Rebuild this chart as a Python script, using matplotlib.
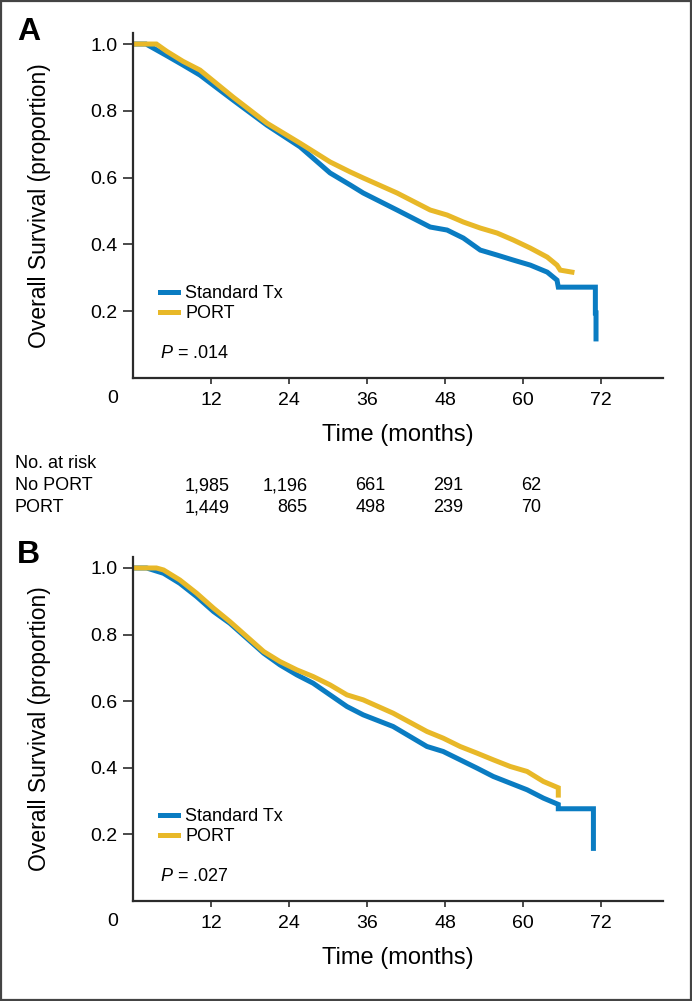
import matplotlib
matplotlib.use("Agg")
import matplotlib.pyplot as plt
from matplotlib.patches import Rectangle
from matplotlib.transforms import blended_transform_factory

# Данные
# Панель A
a_std_t = [0, 2.0, 5.2, 7.7, 10.3, 15.4, 20.6, 25.7, 30.3, 33.4, 35.4, 40.6, 45.7, 48.3, 50.8,
           53.4, 56.0, 58.5, 61.1, 63.7, 65.2, 65.4, 71.1, 71.1, 71.2, 71.2]
a_std_s = [1.0, 1.0, 0.965, 0.937, 0.907, 0.832, 0.757, 0.692, 0.614, 0.578, 0.554, 0.503, 0.452, 0.443, 0.419,
           0.383, 0.368, 0.353, 0.338, 0.317, 0.293, 0.272, 0.272, 0.195, 0.195, 0.117]
a_port_t = [0, 3.6, 5.2, 7.7, 10.3, 15.4, 20.6, 25.7, 30.3, 33.4, 35.4, 40.6, 45.7, 48.3, 50.8,
            53.4, 56.0, 58.5, 61.1, 63.7, 65.2, 65.7, 67.5]
a_port_s = [1.0, 1.0, 0.978, 0.948, 0.922, 0.841, 0.763, 0.703, 0.647, 0.617, 0.599, 0.554, 0.503, 0.488, 0.467,
            0.449, 0.434, 0.413, 0.389, 0.362, 0.338, 0.323, 0.317]

# Панель B
b_std_t = [0, 2.1, 4.7, 7.2, 9.8, 12.4, 14.9, 17.5, 20.1, 22.6, 25.2, 27.7, 30.3, 32.9, 35.4,
           40.0, 45.2, 47.7, 50.3, 52.9, 55.4, 58.0, 60.6, 63.1, 65.4, 65.4, 70.8, 70.8]
b_std_s = [1.0, 1.0, 0.984, 0.954, 0.914, 0.869, 0.834, 0.789, 0.744, 0.709, 0.679, 0.654, 0.619, 0.584, 0.559,
           0.524, 0.464, 0.449, 0.424, 0.399, 0.374, 0.354, 0.334, 0.309, 0.290, 0.277, 0.277, 0.158]
b_port_t = [0, 3.6, 4.7, 7.2, 9.8, 12.4, 14.9, 17.5, 20.1, 22.6, 25.2, 27.7, 30.3, 32.9, 35.4,
            40.0, 45.2, 47.7, 50.3, 52.9, 55.4, 58.0, 60.6, 63.1, 65.4, 65.4]
b_port_s = [1.0, 1.0, 0.994, 0.964, 0.924, 0.879, 0.839, 0.794, 0.749, 0.719, 0.694, 0.674, 0.649, 0.619, 0.604,
            0.564, 0.509, 0.489, 0.464, 0.444, 0.424, 0.404, 0.389, 0.359, 0.340, 0.318]

x_ticks = [12, 24, 36, 48, 60, 72]
y_ticks = [0.2, 0.4, 0.6, 0.8, 1.0]

risk_times = [12, 24, 36, 48, 60]
risk_no_port = ["1,985", "1,196", "661", "291", "62"]
risk_port = ["1,449", "865", "498", "239", "70"]

series_names = ["Standard Tx", "PORT"]
p_values = [".014", ".027"]

BLUE = "#0a7cc2"
GOLD = "#e8b828"
DARK = "#2b2b2b"

plt.rcParams["font.family"] = ["Liberation Sans", "DejaVu Sans"]
plt.rcParams["mathtext.fontset"] = "custom"
plt.rcParams["mathtext.it"] = "Liberation Sans:italic"
plt.rcParams["mathtext.rm"] = "Liberation Sans"

fig = plt.figure(figsize=(6.92, 10.01), dpi=100)
fig.patches.append(Rectangle((0.001, 0.001), 0.998, 0.998, transform=fig.transFigure,
                             fill=False, lw=1.6, ec="#444444"))

ax_a = fig.add_axes([133 / 692, 623 / 1001, 530 / 692, 345 / 1001])
ax_b = fig.add_axes([133 / 692, 100 / 1001, 530 / 692, 344 / 1001])

panels = [
    (ax_a, a_std_t, a_std_s, a_port_t, a_port_s, p_values[0]),
    (ax_b, b_std_t, b_std_s, b_port_t, b_port_s, p_values[1]),
]

for ax, st, ss, pt, ps, pval in panels:
    ax.plot(st, ss, color=BLUE, lw=3.6, solid_joinstyle="miter", label=series_names[0])
    ax.plot(pt, ps, color=GOLD, lw=3.6, solid_joinstyle="miter", label=series_names[1], zorder=2.1)

    ax.set_xlim(0, 81.5)
    ax.set_ylim(0, 1.033)
    ax.spines["top"].set_visible(False)
    ax.spines["right"].set_visible(False)
    for side in ["left", "bottom"]:
        ax.spines[side].set_color(DARK)
        ax.spines[side].set_linewidth(1.6)

    ax.set_xticks(x_ticks)
    ax.set_yticks(y_ticks)
    ax.set_yticklabels([f"{v:.1f}" for v in y_ticks])
    ax.tick_params(axis="x", length=4, width=1.2, color=DARK, pad=6, labelsize=14)
    ax.tick_params(axis="y", length=7, width=1.2, color=DARK, pad=4, labelsize=14)

    # подпись "0" стоит левее оси
    ax.text(-3.1, -0.06, "0", transform=ax.get_xaxis_transform(), ha="center", va="center",
            fontsize=14)

    ax.set_xlabel("Time (months)", fontsize=17, labelpad=11)
    ax.set_ylabel("Overall Survival (proportion)", fontsize=16.5)
    ax.yaxis.set_label_coords(-0.155, 0.5)

    leg = ax.legend(loc="upper left", bbox_to_anchor=(0.037, 0.29), frameon=False,
                    fontsize=13, handlelength=1.0, handletextpad=0.4, labelspacing=0.15,
                    borderaxespad=0)
    for h in leg.get_lines():
        h.set_linewidth(3.6)

    ax.text(0.051, 0.072, r"$P$ = " + pval, transform=ax.transAxes, fontsize=13,
            ha="left", va="center")

# буквы панелей
fig.text(17 / 692, 1 - 32 / 1001, "A", fontsize=23, fontweight="bold", ha="left", va="center")
fig.text(17 / 692, 1 - 555 / 1001, "B", fontsize=23, fontweight="bold", ha="left", va="center")

# таблица "No. at risk"
trans = blended_transform_factory(ax_a.transData, fig.transFigure)
fig.text(15 / 692, 1 - 463 / 1001, "No. at risk", fontsize=13, va="center")
fig.text(15 / 692, 1 - 486 / 1001, "No PORT", fontsize=13, va="center")
fig.text(15 / 692, 1 - 508 / 1001, "PORT", fontsize=13, va="center")
for t, n1, n2 in zip(risk_times, risk_no_port, risk_port):
    fig.text(t + 2.8, 1 - 486 / 1001, n1, transform=trans, fontsize=13, ha="right", va="center")
    fig.text(t + 2.8, 1 - 508 / 1001, n2, transform=trans, fontsize=13, ha="right", va="center")

fig.savefig("out.png", dpi=100)
